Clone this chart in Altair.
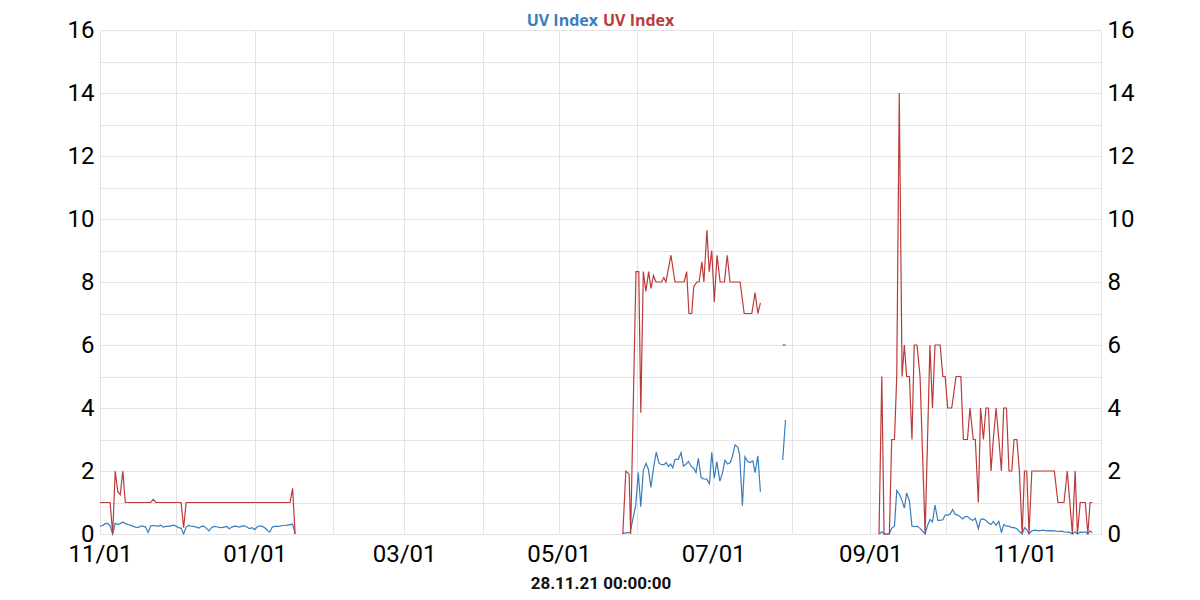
import altair as alt
import pandas as pd

BLUE = "#3a7dbf"
RED = "#bd3a3a"

# ---- segment 1: daily values from 2020-11-01 (day 0) ----
red1_vals = [1, 1, 1, 1, 1, 0, 2, 1.35, 1.25, 2, 1,
             1, 1, 1, 1, 1, 1, 1, 1, 1, 1,
             1.1,
             1, 1, 1, 1, 1, 1, 1, 1, 1, 1, 1,
             0.2,
             1, 1, 1, 1, 1, 1, 1, 1, 1, 1, 1, 1, 1, 1,
             1, 1, 1, 1, 1, 1, 1, 1, 1, 1, 1, 1, 1, 1,
             1, 1, 1, 1, 1, 1, 1, 1, 1, 1, 1, 1, 1, 1,
             1.45, 0]
blue1_vals = [0.25, 0.27, 0.32, 0.34, 0.25, 0.0, 0.34, 0.30, 0.33, 0.38,
              0.33, 0.30, 0.28, 0.25, 0.22, 0.20, 0.25, 0.25, 0.22, 0.05,
              0.26, 0.27, 0.26, 0.25, 0.28, 0.22, 0.24, 0.24, 0.26, 0.28,
              0.25, 0.20, 0.18, 0.0, 0.22, 0.27, 0.25, 0.24, 0.22, 0.19,
              0.24, 0.25, 0.18, 0.10, 0.20, 0.24, 0.23, 0.21, 0.20, 0.22,
              0.24, 0.17, 0.22, 0.25, 0.24, 0.22, 0.25, 0.26, 0.22, 0.17,
              0.20, 0.14, 0.22, 0.26, 0.24, 0.20, 0.12, 0.06, 0.22, 0.24,
              0.24, 0.25, 0.27, 0.27, 0.28, 0.30, 0.32, 0.0]

# ---- segment 2: late May - July 2021 (day offsets from 2020-11-01) ----
red2_days = [206.3, 207.5, 208.8, 209.4, 211.5, 212.6, 213.4, 214.4, 215.4, 216.5,
             217.4, 218.4, 219.4, 221.6, 222.5, 223.3, 225.3, 226.9, 230.5, 231.5,
             232.4, 233.5, 234.3, 235.5, 236.4, 237.5, 238.3, 239.5, 240.4, 241.4,
             242.4, 243.5, 244.7, 246.4, 247.5, 248.6, 252.6, 254.2, 257.2, 258.5,
             259.6, 260.6]
red2_vals = [0, 2.0, 1.9, 0, 8.33, 8.33, 3.85, 8.33, 7.7, 8.33,
             7.8, 8.2, 8.0, 8.0, 8.14, 8.0, 8.85, 8.0, 8.0, 8.33,
             7.0, 7.0, 7.85, 8.0, 8.0, 8.64, 8.0, 9.65, 8.33, 9.0,
             7.37, 8.85, 8.0, 8.0, 8.85, 8.0, 8.0, 7.0, 7.0, 7.66,
             7.0, 7.34]
blue2_days = [206.1, 209.2, 211.4, 212.4, 213.4, 214.4, 215.5, 216.4, 217.4, 218.5,
              219.5, 220.6, 221.7, 222.6, 223.4, 224.3, 225.2, 226.0, 226.9, 228.2,
              229.3, 230.2, 231.3, 232.2, 233.2, 234.3, 235.2, 236.1, 237.2, 238.2,
              239.4, 240.5, 241.4, 242.4, 243.4, 244.6, 245.6, 246.6, 247.7, 248.7,
              249.5, 250.6, 251.7, 252.4, 253.5, 254.5, 255.6, 256.5, 257.6, 258.5,
              259.6, 260.6]
blue2_vals = [0.02, 0.05, 0.92, 1.95, 0.87, 2.03, 2.24, 2.05, 1.48, 2.14,
              2.6, 2.24, 2.2, 2.2, 2.27, 2.14, 2.22, 2.1, 2.37, 2.37,
              2.58, 2.16, 2.22, 2.3, 2.16, 2.09, 1.95, 2.4, 1.79, 1.75,
              1.74, 1.59, 2.59, 1.77, 2.3, 1.68, 1.93, 2.34, 2.22, 2.27,
              2.45, 2.83, 2.75, 2.51, 0.9, 2.45, 2.3, 2.27, 2.32, 1.95,
              2.48, 1.34]

# ---- segment 3: short piece at end of July 2021 ----
red3_days = [269.4, 270.5]
red3_vals = [6.0, 6.0]
blue3_days = [269.4, 270.5]
blue3_vals = [2.35, 3.62]

# ---- segment 4: September - November 2021 ----
red4_days = [307.4, 308.5, 309.4, 311.5, 312.4, 313.5, 314.4, 315.4, 316.5, 317.4,
             318.3, 319.4, 320.4, 321.3, 322.4, 323.6, 325.6, 327.5, 328.5, 329.5,
             331.5, 332.6, 333.5, 334.5, 336.1, 337.8, 339.7, 340.7, 342.3, 343.3,
             344.6, 345.4, 346.6, 347.5, 348.6, 349.6, 350.6, 351.6, 352.5, 353.6,
             354.7, 355.7, 356.6, 357.7, 358.7, 359.8, 360.7, 361.8, 362.8, 363.9,
             364.8, 365.7, 366.6, 367.7, 376.6, 378.0, 380.4, 381.7, 383.7, 384.8,
             385.7, 386.8, 388.8, 389.8, 390.7, 391.6]
red4_vals = [0, 5, 0, 0, 3, 3, 5, 14, 5, 6,
             5, 5, 3, 6, 6, 5, 0, 6, 4, 6,
             6, 5, 5, 4, 4, 5, 5, 3, 3, 4,
             3, 3, 1, 4, 3, 4, 4, 2, 3, 4,
             3, 2, 4, 4, 2, 2, 3, 3, 2, 0,
             2, 2, 0, 2, 2, 1, 1, 2, 0, 2,
             0, 1, 1, 0, 1, 1]
blue4_days = [307.4, 308.5, 309.4, 311.5, 312.4, 313.5, 314.4, 315.4, 316.5, 317.4,
              318.3, 319.4, 320.4, 321.3, 322.4, 323.6, 325.6, 326.6, 327.5, 328.5,
              329.5, 330.6, 331.5, 332.6, 333.5, 334.5, 335.4, 336.5, 337.4, 338.4,
              339.4, 340.5, 341.4, 342.4, 343.3, 344.4, 345.4, 346.6, 347.5, 348.6,
              349.6, 350.6, 351.6, 352.5, 353.6, 354.7, 355.7, 356.6, 357.7, 358.7,
              359.8, 360.7, 361.8, 362.8, 363.9, 364.8, 365.7, 366.6, 367.7, 369.0,
              370.5, 372.0, 373.5, 375.0, 376.6, 378.0, 379.5, 380.4, 381.7, 382.7,
              383.7, 384.8, 385.7, 386.8, 387.8, 388.8, 389.8, 390.7, 391.6]
blue4_vals = [0, 0.07, 0, 0, 0.18, 0.25, 1.38, 1.27, 1.06, 0.82,
              1.3, 1.05, 0.25, 0.23, 0.25, 0.18, 0, 0.28, 0.46, 0.39,
              0.92, 0.43, 0.43, 0.45, 0.6, 0.6, 0.63, 0.78, 0.63, 0.6,
              0.55, 0.48, 0.55, 0.55, 0.48, 0.43, 0.5, 0.17, 0.46, 0.48,
              0.43, 0.35, 0.3, 0.4, 0.28, 0.4, 0.04, 0.3, 0.25, 0.25,
              0.2, 0.2, 0.17, 0.08, 0, 0.2, 0.14, 0, 0.1, 0.12,
              0.1, 0.12, 0.1, 0.11, 0.1, 0.08, 0.09, 0.07, 0.06, 0.05,
              0, 0.07, 0, 0.06, 0.05, 0.07, 0, 0.1, 0.04]

month_ticks = [(2020, 11), (2020, 12), (2021, 1), (2021, 2), (2021, 3), (2021, 4),
               (2021, 5), (2021, 6), (2021, 7), (2021, 8), (2021, 9), (2021, 10),
               (2021, 11), (2021, 12)]
y_ticks = list(range(0, 17))

title_text = "UV Index"
x_title = "28.11.21 00:00:00"

BASE = pd.Timestamp("2020-11-01T00:00:00")


def rows(days, vals, seg):
    out = []
    for d, v in zip(days, vals):
        t = BASE + pd.to_timedelta(d, unit="D")
        out.append({"date": t.strftime("%Y-%m-%dT%H:%M:%SZ"), "value": v, "seg": seg})
    return out


red_rows = (rows(range(len(red1_vals)), red1_vals, "s1") + rows(red2_days, red2_vals, "s2")
            + rows(red3_days, red3_vals, "s3") + rows(red4_days, red4_vals, "s4"))
blue_rows = (rows(range(len(blue1_vals)), blue1_vals, "s1") + rows(blue2_days, blue2_vals, "s2")
             + rows(blue3_days, blue3_vals, "s3") + rows(blue4_days, blue4_vals, "s4"))
red_df = pd.DataFrame(red_rows)
blue_df = pd.DataFrame(blue_rows)

tick_values = [alt.DateTime(year=y, month=m, date=1, utc=True) for y, m in month_ticks]
x_scale = alt.Scale(type="utc", domain=[tick_values[0], tick_values[-1]])

GRID = "#e3e3e3"
LABEL_SIZE = 24

x_axis = alt.Axis(
    values=tick_values,
    labelExpr="utcmonth(datum.value) % 2 == 0 ? utcFormat(datum.value, '%m/%d') : ''",
    grid=True, gridColor=GRID, gridWidth=1,
    ticks=False, domain=False,
    labelFont="Roboto", labelFontSize=LABEL_SIZE, labelColor="#000000",
    labelPadding=8, labelFlush=False, labelOverlap=False,
    title=x_title, titleFont="Roboto", titleFontSize=17, titleFontWeight="bold",
    titleColor="#111111", titlePadding=9,
)


def y_axis(orient, grid):
    return alt.Axis(
        orient=orient, values=y_ticks,
        labelExpr="datum.value % 2 == 0 ? datum.label : ''",
        grid=grid, gridColor=GRID, gridWidth=1,
        ticks=False, domain=False,
        labelFont="Roboto", labelFontSize=LABEL_SIZE, labelColor="#000000",
        labelPadding=6, labelOverlap=False, title=None,
    )


y_scale = alt.Scale(domain=[0, 16], nice=False, zero=True)

blue_line = alt.Chart(blue_df).mark_line(color=BLUE, strokeWidth=1.2).encode(
    x=alt.X("date:T", scale=x_scale, axis=x_axis),
    y=alt.Y("value:Q", scale=y_scale, axis=y_axis("right", False)),
    detail="seg:N",
)
red_line = alt.Chart(red_df).mark_line(color=RED, strokeWidth=1.2).encode(
    x=alt.X("date:T", scale=x_scale, axis=x_axis),
    y=alt.Y("value:Q", scale=y_scale, axis=y_axis("left", True)),
    detail="seg:N",
)

title_df = pd.DataFrame({"label": [title_text]})
title_blue = alt.Chart(title_df).mark_text(
    font="Open Sans", fontSize=16, fontWeight="bold", align="right",
    baseline="alphabetic", color=BLUE,
).encode(x=alt.value(498), y=alt.value(-4.5), text="label:N")
title_red = alt.Chart(title_df).mark_text(
    font="Open Sans", fontSize=16, fontWeight="bold", align="left",
    baseline="alphabetic", color=RED,
).encode(x=alt.value(503), y=alt.value(-4.5), text="label:N")

chart = alt.layer(blue_line, red_line, title_blue, title_red).resolve_scale(
    y="independent"
).properties(
    width=1001, height=504,
    padding={"left": 92, "top": 22, "right": 91, "bottom": 58},
    autosize=alt.AutoSizeParams(type="none"),
    background="white",
).configure_view(stroke=None)

chart.save("out.html", embed_options={"renderer": "svg", "actions": False})
